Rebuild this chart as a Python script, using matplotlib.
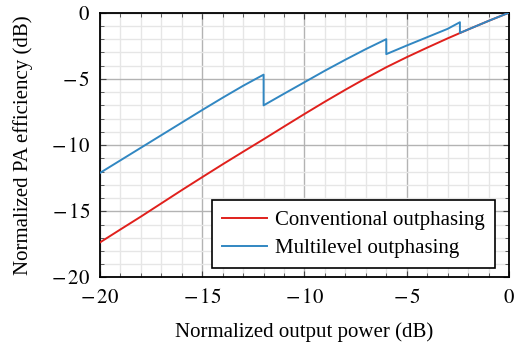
import matplotlib
matplotlib.use("Agg")
import matplotlib.pyplot as plt
from matplotlib.ticker import MultipleLocator

plt.rcParams['font.family'] = ['Liberation Serif', 'DejaVu Serif']
plt.rcParams['mathtext.fontset'] = 'stix'

# Conventional outphasing
conv_x = [-20, -19, -18, -17, -16, -15, -14, -13, -12, -11, -10,
          -9, -8, -7, -6, -5, -4, -3, -2, -1, 0]
conv_y = [-17.35, -16.37, -15.4, -14.4, -13.4, -12.42, -11.45, -10.5, -9.56, -8.6, -7.65,
          -6.72, -5.82, -4.95, -4.12, -3.36, -2.64, -1.94, -1.27, -0.62, 0.0]

# Multilevel outphasing, vertical jumps at level switches
multi_x = [-20, -19, -18, -17, -16, -15, -14, -13, -12,
           -12, -11, -10, -9, -8, -7, -6,
           -6, -5, -4, -3, -2.4,
           -2.4, -2, -1, 0]
multi_y = [-12.1, -11.15, -10.2, -9.25, -8.3, -7.35, -6.42, -5.52, -4.68,
           -7.0, -6.12, -5.25, -4.38, -3.55, -2.75, -2.0,
           -3.13, -2.48, -1.85, -1.22, -0.72,
           -1.53, -1.27, -0.62, 0.0]

x_limits = (-20, 0)
y_limits = (-20, 0)
major_ticks = [-20, -15, -10, -5, 0]
tick_labels = ['$-\\,20$', '$-\\,15$', '$-\\,10$', '$-\\,5$', '$0$']

fig = plt.figure(figsize=(5.19, 3.43), dpi=100)
ax = fig.add_axes([0.1927, 0.191, 0.7880, 0.772])

ax.plot(conv_x, conv_y, color='#e0201c', lw=1.4, label='Conventional outphasing', zorder=3)
ax.plot(multi_x, multi_y, color='#3187c2', lw=1.4, label='Multilevel outphasing', zorder=4)

ax.set_xlim(*x_limits)
ax.set_ylim(*y_limits)
ax.set_xticks(major_ticks)
ax.set_yticks(major_ticks)
ax.xaxis.set_minor_locator(MultipleLocator(1))
ax.yaxis.set_minor_locator(MultipleLocator(1))
ax.set_xticklabels(tick_labels)
ax.set_yticklabels(tick_labels)

ax.grid(which='major', color='#b3b3b3', lw=1.0, zorder=1)
ax.grid(which='minor', color='#e6e6e6', lw=1.0, zorder=0)
ax.set_axisbelow(True)

ax.tick_params(which='both', direction='in', top=True, right=True, labelsize=15, color='#444444')
ax.tick_params(which='major', length=4, width=0.8)
ax.tick_params(axis='x', which='major', pad=8)
ax.tick_params(axis='y', which='major', pad=7)
ax.tick_params(which='minor', length=3, width=0.6)
for s in ax.spines.values():
    s.set_linewidth(1.3)
    s.set_color('black')

ax.set_xlabel('Normalized output power (dB)', fontsize=15, va='baseline')
ax.set_ylabel('Normalized PA efficiency (dB)', fontsize=15, va='baseline')
ax.xaxis.set_label_coords(0.5, -0.2236)
ax.yaxis.set_label_coords(-0.177, 0.5)

leg = ax.legend(loc='lower right', bbox_to_anchor=(0.966, 0.036), fontsize=15,
                frameon=True, fancybox=False, edgecolor='black', framealpha=1,
                handlelength=2.15, handletextpad=0.4, borderpad=0.48,
                labelspacing=0.4, borderaxespad=0.0)
leg.get_frame().set_linewidth(1.2)

fig.savefig('out.png', dpi=100)
